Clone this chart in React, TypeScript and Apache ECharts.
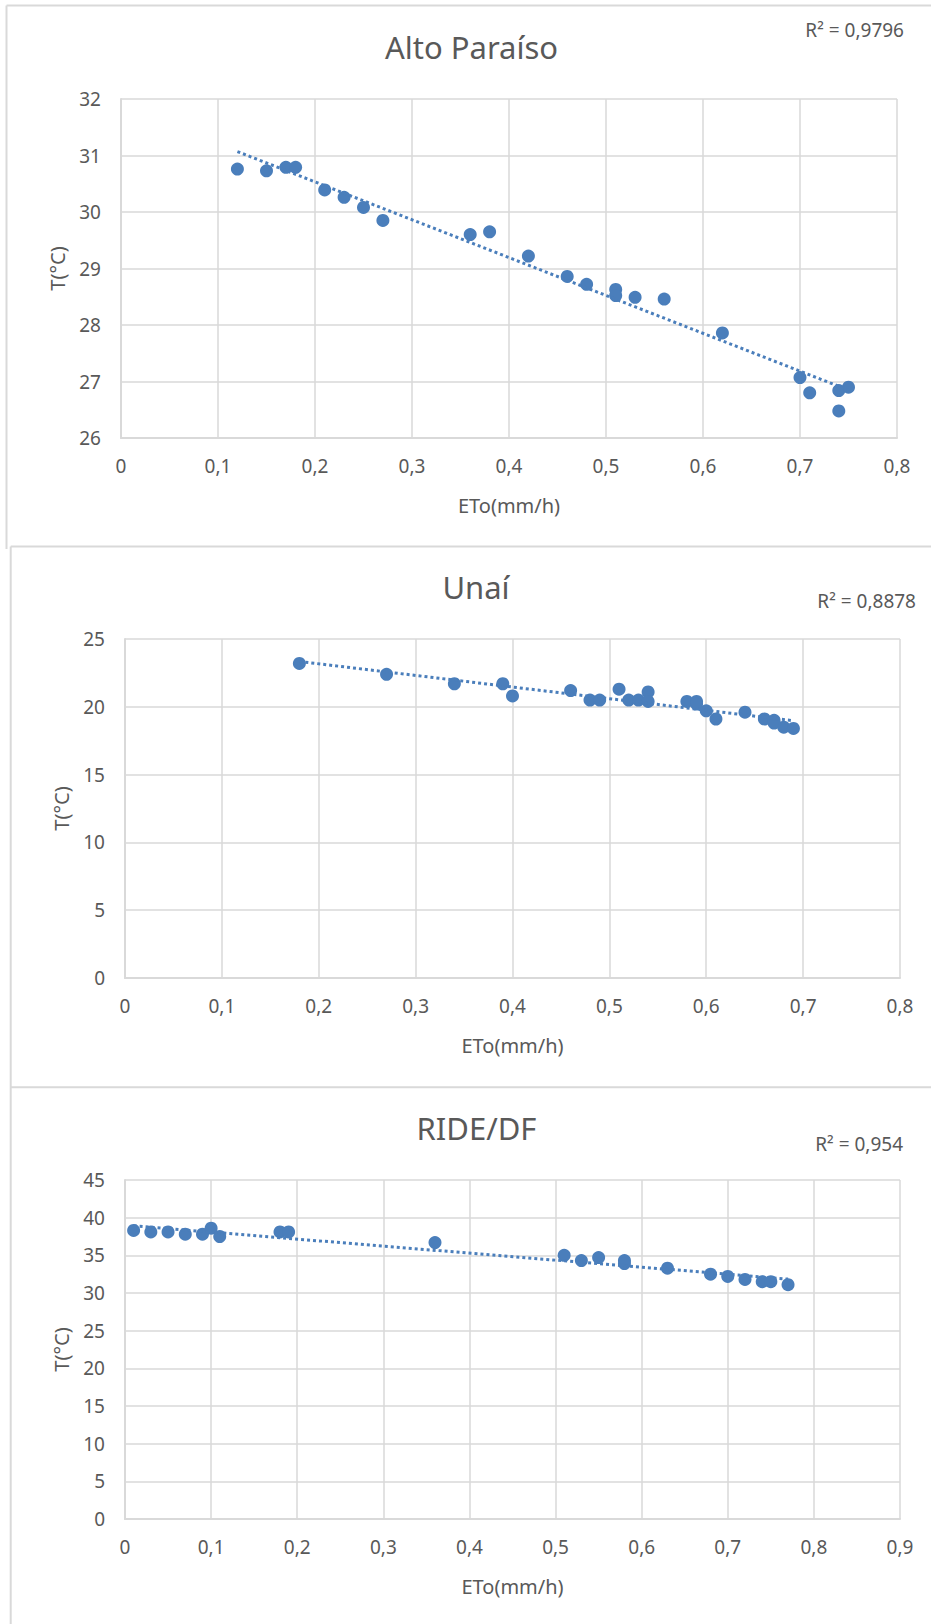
import React, { useEffect, useRef } from "react";
import * as echarts from "echarts";

// ---- data ----
const altoEto = [0.12, 0.15, 0.17, 0.18, 0.21, 0.23, 0.25, 0.27, 0.36, 0.38, 0.42, 0.46, 0.48, 0.51, 0.51, 0.53, 0.56, 0.62, 0.70, 0.71, 0.74, 0.74, 0.75];
const altoT = [30.76, 30.73, 30.79, 30.79, 30.39, 30.26, 30.08, 29.85, 29.60, 29.65, 29.22, 28.86, 28.72, 28.63, 28.52, 28.49, 28.46, 27.86, 27.07, 26.80, 26.84, 26.48, 26.90];

const unaiEto = [0.18, 0.27, 0.34, 0.39, 0.40, 0.46, 0.48, 0.49, 0.51, 0.52, 0.53, 0.54, 0.54, 0.58, 0.59, 0.59, 0.60, 0.61, 0.64, 0.66, 0.67, 0.67, 0.68, 0.69];
const unaiT = [23.2, 22.4, 21.7, 21.7, 20.8, 21.2, 20.5, 20.5, 21.3, 20.5, 20.5, 21.1, 20.4, 20.4, 20.4, 20.2, 19.7, 19.1, 19.6, 19.1, 19.0, 18.8, 18.5, 18.4];

const rideEto = [0.01, 0.03, 0.05, 0.07, 0.09, 0.10, 0.11, 0.18, 0.19, 0.36, 0.51, 0.53, 0.55, 0.58, 0.58, 0.63, 0.68, 0.70, 0.72, 0.74, 0.75, 0.77];
const rideT = [38.3, 38.1, 38.1, 37.8, 37.8, 38.6, 37.5, 38.1, 38.1, 36.7, 35.0, 34.3, 34.7, 34.3, 33.9, 33.3, 32.5, 32.2, 31.8, 31.5, 31.5, 31.1];

const titles = ["Alto Paraíso", "Unaí", "RIDE/DF"];
const r2Labels = ["R² = 0,9796", "R² = 0,8878", "R² = 0,954"];
const xMax = [0.8, 0.8, 0.9];
const yMin = [26, 0, 0];
const yMax = [32, 25, 45];
const yInterval = [1, 5, 5];
const xName = "ETo(mm/h)";
const yName = "T(°C)";

const FONT = "'Noto Sans', sans-serif";
const BLUE = "#4a7ebb";
const GREY_TXT = "#595959";
const GRID_C = "#d9d9d9";

function linFit(xs: number[], ys: number[]) {
  const n = xs.length;
  const mx = xs.reduce((a, b) => a + b, 0) / n;
  const my = ys.reduce((a, b) => a + b, 0) / n;
  let sxy = 0, sxx = 0;
  for (let i = 0; i < n; i++) {
    sxy += (xs[i] - mx) * (ys[i] - my);
    sxx += (xs[i] - mx) * (xs[i] - mx);
  }
  const b = sxy / sxx;
  const a = my - b * mx;
  const x0 = Math.min(...xs);
  const x1 = Math.max(...xs);
  return [[x0, a + b * x0], [x1, a + b * x1]];
}

const fmt = (v: number) => String(Math.round(v * 10) / 10).replace(".", ",");

export default function App() {
  const ref = useRef<HTMLDivElement>(null);
  useEffect(() => {
    if (!ref.current) return;
    const chart = echarts.init(ref.current, null, { renderer: "svg" });
    const sets = [
      [altoEto, altoT],
      [unaiEto, unaiT],
      [rideEto, rideT],
    ];
    const grids = [
      { left: 121, right: 34, top: 99, height: 339 },
      { left: 125, right: 31, top: 639, height: 339 },
      { left: 125, right: 31, top: 1180, height: 339 },
    ];
    const titlePos = [
      [471.5, 47],
      [476, 587],
      [476.5, 1128],
    ];
    const r2Pos = [
      [904, 30],
      [916, 601],
      [903, 1144],
    ];
    const xAxis = grids.map((_, i) => ({
      type: "value",
      gridIndex: i,
      min: 0,
      max: xMax[i],
      interval: 0.1,
      name: xName,
      nameLocation: "middle",
      nameGap: 57,
      nameTextStyle: { fontFamily: FONT, fontSize: 20, color: GREY_TXT },
      axisLine: { show: true, lineStyle: { color: GRID_C, width: 2 } },
      axisTick: { show: false },
      axisLabel: { fontFamily: FONT, fontSize: 19, color: GREY_TXT, margin: 18, formatter: fmt },
      splitLine: { show: true, lineStyle: { color: GRID_C, width: 1.5 } },
    }));
    const yAxis = grids.map((_, i) => ({
      type: "value",
      gridIndex: i,
      min: yMin[i],
      max: yMax[i],
      interval: yInterval[i],
      name: yName,
      nameLocation: "middle",
      nameGap: 54,
      nameTextStyle: { fontFamily: FONT, fontSize: 20, color: GREY_TXT },
      axisLine: { show: true, lineStyle: { color: GRID_C, width: 2 } },
      axisTick: { show: false },
      axisLabel: { fontFamily: FONT, fontSize: 19, color: GREY_TXT, margin: 20, formatter: fmt },
      splitLine: { show: true, lineStyle: { color: GRID_C, width: 1.5 } },
    }));
    const series: any[] = [];
    sets.forEach(([xs, ys], i) => {
      series.push({
        type: "scatter",
        xAxisIndex: i,
        yAxisIndex: i,
        symbol: "circle",
        symbolSize: 13,
        itemStyle: { color: BLUE, opacity: 1 },
        data: xs.map((x, k) => [x, ys[k]]),
        z: 2,
      });
      series.push({
        type: "line",
        xAxisIndex: i,
        yAxisIndex: i,
        showSymbol: false,
        symbol: "none",
        lineStyle: { color: BLUE, width: 3, type: "dotted", opacity: 1 },
        data: linFit(xs, ys),
        z: 3,
      });
    });
    const graphics: any[] = [];
    titles.forEach((t, i) => {
      graphics.push({
        type: "text",
        x: titlePos[i][0],
        y: titlePos[i][1],
        style: { text: t, fontFamily: FONT, fontSize: 31, fill: GREY_TXT, align: "center", verticalAlign: "middle" },
      });
      graphics.push({
        type: "text",
        x: r2Pos[i][0],
        y: r2Pos[i][1],
        style: { text: r2Labels[i], fontFamily: FONT, fontSize: 19, fill: GREY_TXT, align: "right", verticalAlign: "middle" },
      });
    });
    const bl = { stroke: GRID_C, lineWidth: 2 };
    graphics.push(
      { type: "line", shape: { x1: 6.5, y1: 5.5, x2: 931, y2: 5.5 }, style: bl },
      { type: "line", shape: { x1: 6.5, y1: 5.5, x2: 6.5, y2: 549 }, style: bl },
      { type: "line", shape: { x1: 10.7, y1: 546.5, x2: 931, y2: 546.5 }, style: bl },
      { type: "line", shape: { x1: 10.7, y1: 546.5, x2: 10.7, y2: 1624 }, style: bl },
      { type: "line", shape: { x1: 10.7, y1: 1087.3, x2: 931, y2: 1087.3 }, style: bl }
    );
    chart.setOption({
      animation: false,
      backgroundColor: "#ffffff",
      grid: grids,
      xAxis,
      yAxis,
      series,
      graphic: graphics,
    });
    return () => chart.dispose();
  }, []);
  return (
    <div
      ref={ref}
      style={{ position: "absolute", left: 0, top: 0, width: 931, height: 1624, background: "#fff" }}
    />
  );
}
